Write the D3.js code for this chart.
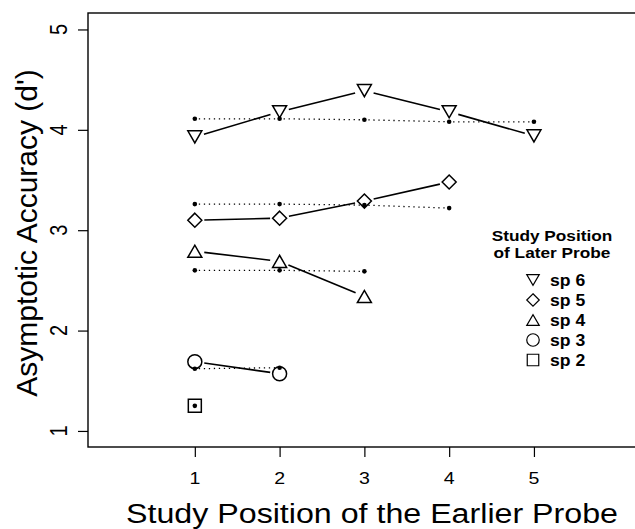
<!DOCTYPE html>
<html>
<head>
<meta charset="utf-8">
<script src="https://cdn.jsdelivr.net/npm/d3@7"></script>
<style>
  body { margin: 0; background: #fff; }
  svg { display: block; font-family: "Liberation Sans", Arial, sans-serif; }
</style>
</head>
<body>
<svg id="chart" width="635" height="529"></svg>
<script>
// study position of the earlier probe (x)
const positions = [1, 2, 3, 4, 5];
const yTicks = [1, 2, 3, 4, 5];
const laterProbes = ["sp 6", "sp 5", "sp 4", "sp 3", "sp 2"];

// asymptotic accuracy, open symbols with solid line
const sp6 = [3.93, 4.18, 4.39, 4.18, 3.94];
const sp5 = [3.10, 3.12, 3.29, 3.48];
const sp4 = [2.79, 2.69, 2.34];
const sp3 = [1.69, 1.57];
const sp2 = [1.25];
// small black dots with dotted line
const sp6Dots = [4.11, 4.11, 4.10, 4.08, 4.08];
const sp5Dots = [3.26, 3.26, 3.25, 3.22];
const sp4Dots = [2.60, 2.60, 2.59];
const sp3Dots = [1.62, 1.63];
const sp2Dots = [1.25];

const series = [
  { name: laterProbes[0], shape: "down", solid: sp6, dots: sp6Dots },
  { name: laterProbes[1], shape: "diamond", solid: sp5, dots: sp5Dots },
  { name: laterProbes[2], shape: "up", solid: sp4, dots: sp4Dots },
  { name: laterProbes[3], shape: "circle", solid: sp3, dots: sp3Dots },
  { name: laterProbes[4], shape: "square", solid: sp2, dots: sp2Dots }
];

const svg = d3.select("#chart");
const sx = 1.15; // the scan is a bit wider than tall

// plot box runs past the right edge of the picture
const x = d3.scaleLinear().domain([-0.26, 6.31]).range([88, 645]);
const y = d3.scaleLinear().domain([0.84, 5.164]).range([447, 13]);

// symbol paths, s = overall width
function shapePath(shape, s) {
  const r = s / 2;
  const h = s * 0.866 / 2;
  if (shape === "down") return `M${-r},${-h}L${r},${-h}L0,${h}Z`;
  if (shape === "up") return `M${-r},${h}L${r},${h}L0,${-h}Z`;
  if (shape === "diamond") return `M0,${-r}L${r},0L0,${r}L${-r},0Z`;
  if (shape === "square") return `M${-r},${-r}H${r}V${r}H${-r}Z`;
  return d3.arc()({ innerRadius: 0, outerRadius: r, startAngle: 0, endAngle: 2 * Math.PI });
}

// segments between consecutive points, with gaps at the ends
function gapSegs(vals, gap) {
  const segs = [];
  for (let i = 0; i < vals.length - 1; i++) {
    const x1 = x(positions[i]), y1 = y(vals[i]);
    const x2 = x(positions[i + 1]), y2 = y(vals[i + 1]);
    const len = Math.hypot(x2 - x1, y2 - y1);
    const ux = (x2 - x1) / len, uy = (y2 - y1) / len;
    segs.push([x1 + ux * gap, y1 + uy * gap, x2 - ux * gap, y2 - uy * gap]);
  }
  return segs;
}

//********** FRAME AND AXES ***********//
svg.append("rect")
  .attr("x", x.range()[0])
  .attr("y", y.range()[1])
  .attr("width", x.range()[1] - x.range()[0])
  .attr("height", y.range()[0] - y.range()[1])
  .attr("fill", "none")
  .attr("stroke", "#000")
  .attr("stroke-width", 1.4);

const yAxis = svg.append("g")
  .attr("transform", `translate(${x.range()[0]},0)`)
  .call(d3.axisLeft(y).tickValues(yTicks).tickSize(10).tickFormat(""));
yAxis.select(".domain").remove();
yAxis.selectAll(".tick line").attr("stroke", "#000").attr("stroke-width", 1.2);

// rotated y tick labels (read bottom to top)
svg.append("g")
  .selectAll("g")
  .data(yTicks)
  .join("g")
  .attr("transform", (d) => `translate(67,${y(d)}) scale(${sx},1)`)
  .append("text")
  .attr("transform", "rotate(-90)")
  .attr("text-anchor", "middle")
  .style("font-size", "20px")
  .text((d) => String(d));

const xAxis = svg.append("g")
  .attr("transform", `translate(0,${y.range()[0]})`)
  .call(d3.axisBottom(x).tickValues(positions).tickSize(10).tickFormat(""));
xAxis.select(".domain").remove();
xAxis.selectAll(".tick line").attr("stroke", "#000").attr("stroke-width", 1.2);

svg.append("g")
  .selectAll("text")
  .data(positions)
  .join("text")
  .attr("transform", (d) => `translate(${x(d)},484) scale(${sx},1)`)
  .attr("text-anchor", "middle")
  .style("font-size", "17px")
  .text((d) => d);

svg.append("text")
  .attr("transform", `translate(37,233) rotate(-90)`)
  .attr("text-anchor", "middle")
  .style("font-size", "30px")
  .text("Asymptotic Accuracy (d')");

svg.append("text")
  .attr("transform", `translate(372,523) scale(${sx},1)`)
  .attr("text-anchor", "middle")
  .style("font-size", "28px")
  .text("Study Position of the Earlier Probe");

//********** DATA ***********//
const plot = svg.append("g");

series.forEach((s) => {
  // dotted lines + dots
  plot.selectAll(null)
    .data(gapSegs(s.dots, 4))
    .join("line")
    .attr("x1", (d) => d[0]).attr("y1", (d) => d[1])
    .attr("x2", (d) => d[2]).attr("y2", (d) => d[3])
    .attr("stroke", "#000")
    .attr("stroke-width", 1.3)
    .attr("stroke-dasharray", "1.3,3.7");

  plot.selectAll(null)
    .data(s.dots)
    .join("circle")
    .attr("cx", (d, i) => x(positions[i]))
    .attr("cy", (d) => y(d))
    .attr("r", 2.3)
    .attr("fill", "#000");

  // solid lines + open symbols
  plot.selectAll(null)
    .data(gapSegs(s.solid, 9.5))
    .join("line")
    .attr("x1", (d) => d[0]).attr("y1", (d) => d[1])
    .attr("x2", (d) => d[2]).attr("y2", (d) => d[3])
    .attr("stroke", "#000")
    .attr("stroke-width", 1.6);

  plot.selectAll(null)
    .data(s.solid)
    .join("path")
    .attr("transform", (d, i) => `translate(${x(positions[i])},${y(d)})`)
    .attr("d", shapePath(s.shape, s.shape === "square" ? 13 : 14))
    .attr("fill", "none")
    .attr("stroke", "#000")
    .attr("stroke-width", 1.5);
});

//********** LEGEND ***********//
const legend = svg.append("g");
legend.selectAll(null)
  .data(["Study Position", "of Later Probe"])
  .join("text")
  .attr("transform", (d, i) => `translate(552,${241 + i * 16.5}) scale(${sx},1)`)
  .attr("text-anchor", "middle")
  .style("font-size", "15px")
  .style("font-weight", "bold")
  .text((d) => d);

const rows = legend.selectAll(null)
  .data(series)
  .join("g")
  .attr("transform", (d, i) => `translate(533,${280 + i * 20})`);
rows.append("path")
  .attr("d", (d) => shapePath(d.shape, d.shape === "square" ? 11.5 : 12.5))
  .attr("fill", "none")
  .attr("stroke", "#000")
  .attr("stroke-width", 1.2);
rows.append("text")
  .attr("transform", `translate(17,5.5) scale(1.1,1)`)
  .style("font-size", "16px")
  .style("font-weight", "bold")
  .text((d) => d.name);
</script>
</body>
</html>
